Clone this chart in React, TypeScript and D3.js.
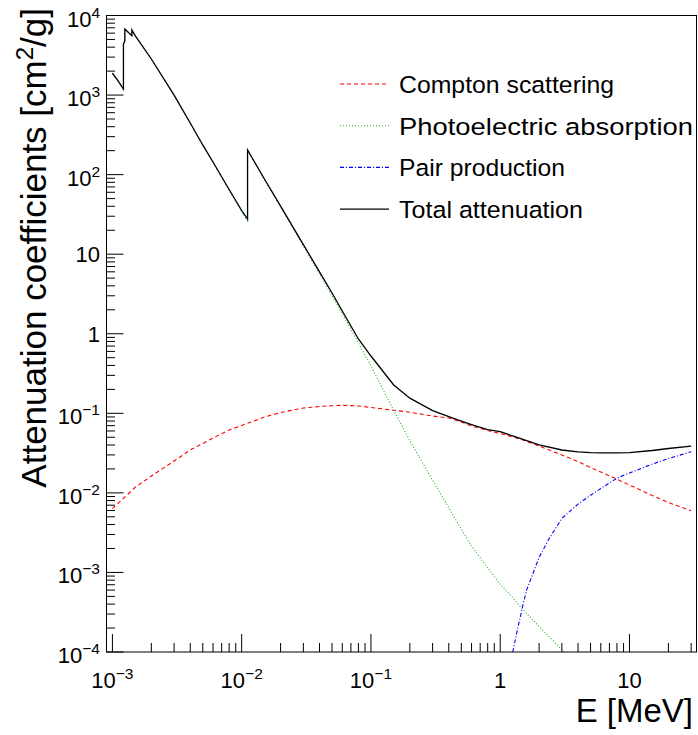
import React from 'react';
import * as d3 from 'd3';

// ---------- data ----------
const totalE = [1e-3, 1.1e-3, 1.217e-3, 1.217e-3, 1.248e-3, 1.248e-3, 1.414e-3, 1.414e-3, 1.5e-3, 2e-3, 3e-3, 4e-3, 5e-3, 6e-3, 8e-3, 1e-2, 1.1103e-2, 1.1103e-2, 1.5e-2, 2e-2, 3e-2, 4e-2, 5e-2, 6e-2, 8e-2, 0.1, 0.15, 0.2, 0.3, 0.4, 0.5, 0.6, 0.8, 1, 1.25, 1.5, 2, 3, 4, 5, 6, 8, 10, 15, 20, 30];
const totalV = [1880, 1530, 1190, 4380, 4800, 6770, 5570, 6580, 5590, 2840, 1000, 446, 236, 144, 65, 35.4, 27.5, 204, 88, 40.2, 13.2, 6.0, 3.25, 1.93, 0.86, 0.525, 0.227, 0.155, 0.108, 0.091, 0.080, 0.0723, 0.0622, 0.0588, 0.0519, 0.0469, 0.040, 0.0346, 0.0327, 0.032, 0.0318, 0.0318, 0.032, 0.0341, 0.0361, 0.0388];

const comptonE = [1e-3, 1.5e-3, 2e-3, 3e-3, 4e-3, 5e-3, 6e-3, 8e-3, 1e-2, 1.5e-2, 2e-2, 3e-2, 4e-2, 5e-2, 6e-2, 8e-2, 0.1, 0.15, 0.2, 0.3, 0.4, 0.5, 0.6, 0.8, 1, 1.25, 1.5, 2, 3, 4, 5, 6, 8, 10, 15, 20, 30];
const comptonV = [0.00635, 0.01175, 0.0163, 0.0251, 0.0346, 0.0417, 0.0489, 0.0616, 0.0703, 0.0898, 0.1023, 0.1165, 0.1218, 0.1246, 0.126, 0.1237, 0.1183, 0.1094, 0.103, 0.0925, 0.0873, 0.0778, 0.0692, 0.0608, 0.0557, 0.0504, 0.0461, 0.0388, 0.0299, 0.0248, 0.0208, 0.0183, 0.0149, 0.01256, 0.00927, 0.00757, 0.00597];

const photoE = [1e-3, 1.1e-3, 1.217e-3, 1.217e-3, 1.248e-3, 1.248e-3, 1.414e-3, 1.414e-3, 1.5e-3, 2e-3, 3e-3, 4e-3, 5e-3, 6e-3, 8e-3, 1e-2, 1.1103e-2, 1.1103e-2, 1.5e-2, 2e-2, 3e-2, 4e-2, 5e-2, 6e-2, 8e-2, 0.1, 0.15, 0.2, 0.3, 0.4, 0.5, 0.6, 0.8, 1, 1.25, 1.5, 2, 3, 4];
const photoV = [1870, 1515, 1175, 4360, 4780, 6740, 5545, 6555, 5565, 2820, 990, 440, 232, 141, 63, 34, 26.3, 202, 86.5, 39.2, 12.7, 5.65, 3.0, 1.80, 0.765, 0.393, 0.1084, 0.0455, 0.0144, 0.0065, 0.0035, 0.00215, 0.00114, 7.1e-4, 4.8e-4, 3.4e-4, 2.1e-4, 1.06e-4, 6.8e-5];

const pairE = [1.25, 1.375, 1.5, 1.6, 2, 2.4, 3, 4, 5, 6, 8, 10, 15, 20, 30];
const pairV = [1.0e-4, 2.08e-4, 3.9e-4, 6.0e-4, 1.55e-3, 2.7e-3, 4.77e-3, 7.23e-3, 9.32e-3, 0.01135, 0.0153, 0.0178, 0.023, 0.027, 0.0329];

const legendLabels = ['Compton scattering', 'Photoelectric absorption', 'Pair production', 'Total attenuation'];
const xMajorTicks = [1e-3, 1e-2, 1e-1, 1, 10];
const xTickLabels = [['10', '\u22123'], ['10', '\u22122'], ['10', '\u22121'], ['1', ''], ['10', '']];
const yMajorTicks = [1e-4, 1e-3, 1e-2, 1e-1, 1, 10, 100, 1000, 10000];
const yTickLabels = [['10', '\u22124'], ['10', '\u22123'], ['10', '\u22122'], ['10', '\u22121'], ['1', ''], ['10', ''], ['10', '2'], ['10', '3'], ['10', '4']];

const FONT = 'Liberation Sans, Arial, Helvetica, sans-serif';

export default function App() {
  const W = 698, H = 735;
  const left = 106.5, right = 696.5, top = 15.5, bottom = 652;
  const x = d3.scaleLog().domain([9e-4, 33]).range([left, right]);
  const y = d3.scaleLog().domain([1e-4, 1e4]).range([bottom, top]);
  const line = d3.line<[number, number]>().x(d => x(d[0])).y(d => y(d[1]));
  const zip = (a: number[], b: number[]) => a.map((v, i) => [v, b[i]] as [number, number]);

  const series = [
    { pts: zip(comptonE, comptonV), color: '#ff0000', dash: '4,3' },
    { pts: zip(photoE, photoV), color: '#1fb01f', dash: '1,2' },
    { pts: zip(pairE, pairV), color: '#0000ff', dash: '4,2,1,2' },
    { pts: zip(totalE, totalV), color: '#000000', dash: undefined as string | undefined },
  ];
  const legendWidths = [215, 294, 166, 184];

  // minor ticks
  const xMinor: number[] = [];
  for (let d = -3; d <= 1; d++) for (let m = 2; m <= 9; m++) {
    const v = m * Math.pow(10, d);
    if (v <= 33) xMinor.push(v);
  }
  const yMinor: number[] = [];
  for (let d = -4; d <= 3; d++) for (let m = 2; m <= 9; m++) yMinor.push(m * Math.pow(10, d));

  const legendY0 = 84, legendDy = 41.7;

  return (
    <svg width={W} height={H} style={{ position: 'absolute', left: 0, top: 0, background: '#fff' }} fontFamily={FONT}>
      <rect x={0} y={0} width={W} height={H} fill="#fff" />
      <defs>
        <clipPath id="frameClip">
          <rect x={left} y={top} width={right - left} height={bottom - top} />
        </clipPath>
      </defs>
      <g clipPath="url(#frameClip)">
        {series.map((s, i) => (
          <path key={i} d={line(s.pts) || ''} fill="none" stroke={s.color} strokeWidth={i === 3 ? 1.3 : 1.1} strokeDasharray={s.dash} />
        ))}
      </g>
      {/* frame */}
      <rect x={left} y={top} width={right - left} height={bottom - top} fill="none" stroke="#000" strokeWidth={1} />
      {/* x ticks */}
      {xMajorTicks.map((v, i) => (
        <line key={'xM' + i} x1={x(v)} x2={x(v)} y1={bottom} y2={bottom - 18} stroke="#000" strokeWidth={1} />
      ))}
      {xMinor.map((v, i) => (
        <line key={'xm' + i} x1={x(v)} x2={x(v)} y1={bottom} y2={bottom - 9} stroke="#000" strokeWidth={1} />
      ))}
      {/* y ticks */}
      {yMajorTicks.map((v, i) => (
        <line key={'yM' + i} x1={left} x2={left + 17} y1={y(v)} y2={y(v)} stroke="#000" strokeWidth={1} />
      ))}
      {yMinor.map((v, i) => (
        <line key={'ym' + i} x1={left} x2={left + 8.5} y1={y(v)} y2={y(v)} stroke="#000" strokeWidth={1} />
      ))}
      {/* x tick labels */}
      {xMajorTicks.map((v, i) => {
        const [b, e] = xTickLabels[i];
        return (
          <text key={'xl' + i} x={x(v)} y={688} fontSize={22} textAnchor="middle" fill="#000">
            {b}
            {e && <tspan dy={-9} fontSize={15.5}>{e}</tspan>}
          </text>
        );
      })}
      {/* y tick labels */}
      {yMajorTicks.map((v, i) => {
        const [b, e] = yTickLabels[i];
        return (
          <text key={'yl' + i} x={100} y={y(v) + (e ? 11 : 8)} fontSize={22} textAnchor="end" fill="#000">
            {b}
            {e && <tspan dy={-9} fontSize={15.5}>{e}</tspan>}
          </text>
        );
      })}
      {/* axis titles */}
      <text x={693} y={722} fontSize={33} textAnchor="end" fill="#000">E [MeV]</text>
      <text transform="translate(46,8) rotate(-90)" fontSize={35} textAnchor="end" fill="#000">
        Attenuation coefficients [cm<tspan dy={-13} fontSize={24}>2</tspan><tspan dy={13}>/g]</tspan>
      </text>
      {/* legend */}
      {legendLabels.map((lab, i) => {
        const ly = legendY0 + i * legendDy;
        const s = series[i];
        return (
          <g key={'lg' + i}>
            <line x1={340} x2={389} y1={ly} y2={ly} stroke={s.color} strokeWidth={1.1} strokeDasharray={s.dash} />
            <text x={399} y={ly + 8.8} fontSize={24.5} fill="#000" textLength={legendWidths[i]} lengthAdjust="spacingAndGlyphs">{lab}</text>
          </g>
        );
      })}
    </svg>
  );
}
